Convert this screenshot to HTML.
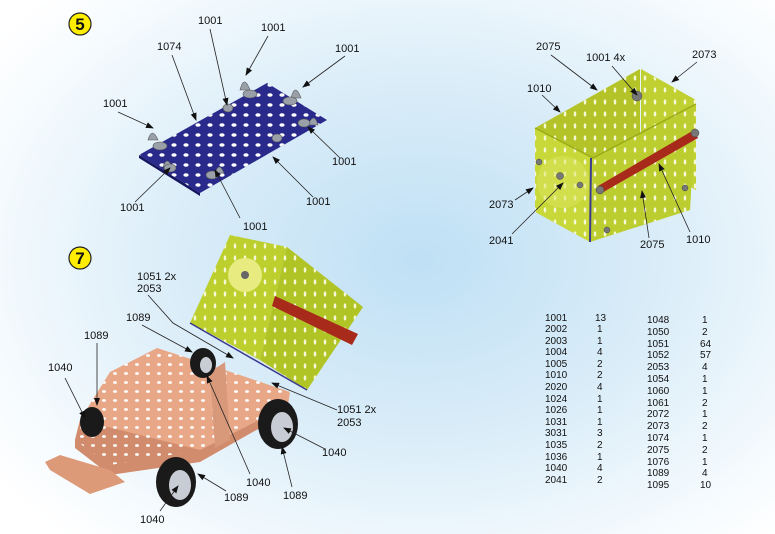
<!DOCTYPE html>
<html><head><meta charset="utf-8"><style>
html,body{margin:0;padding:0;}
body{width:775px;height:534px;overflow:hidden;background:radial-gradient(ellipse 520px 380px at 420px 260px,#bfe0f5 0%,#d9ecf8 45%,#f6fbfe 85%,#ffffff 100%);font-family:"Liberation Sans",sans-serif;}
svg{position:absolute;left:0;top:0;}
text{font-family:"Liberation Sans",sans-serif;font-size:11px;fill:#111;}
.t text{font-size:10px;}
</style></head><body>
<svg width="775" height="534" viewBox="0 0 775 534">
<defs>
<marker id="a" markerWidth="8" markerHeight="8" refX="7" refY="4" orient="auto" markerUnits="userSpaceOnUse"><path d="M0,1 L8,4 L0,7 z" fill="#111"/></marker>
<pattern id="hw" width="12" height="10" patternUnits="userSpaceOnUse"><ellipse cx="6" cy="5" rx="2.6" ry="1.8" fill="#fff"/></pattern>
<pattern id="hy" width="10" height="12" patternUnits="userSpaceOnUse"><ellipse cx="5" cy="6" rx="1.3" ry="2.6" fill="#f4f8d0"/></pattern>
<pattern id="hs" width="11" height="9" patternUnits="userSpaceOnUse"><ellipse cx="5" cy="4.5" rx="2" ry="1.4" fill="#fff"/></pattern>
</defs>

<circle cx="80" cy="24" r="11" fill="#ffee00" stroke="#222" stroke-width="1.2"/>
<text x="80" y="30" text-anchor="middle" style="font-size:17px;font-weight:bold">5</text>
<polygon points="139,155 267,83 327,120 200,193" fill="#2a2a8c"/>
<polygon points="139,155 267,83 327,120 200,193" fill="url(#hw)"/>
<polygon points="139,155 200,193 200,196 139,158" fill="#151560"/>
<g fill="#9aa0a8" stroke="#555" stroke-width=".6">
<path d="M148,140 q4,-14 10,0 z"/><path d="M240,90 q4,-16 10,0 z"/><path d="M291,98 q4,-16 10,0 z"/>
<path d="M308,125 q6,-14 10,0 z"/><path d="M163,167 q4,-12 9,0 z"/><path d="M215,173 q4,-12 9,0 z"/>
<ellipse cx="160" cy="146" rx="7" ry="4"/><ellipse cx="250" cy="94" rx="7" ry="4"/><ellipse cx="290" cy="101" rx="7" ry="4"/>
<ellipse cx="304" cy="123" rx="6" ry="4"/><ellipse cx="228" cy="108" rx="5" ry="4"/><ellipse cx="277" cy="138" rx="5" ry="4"/>
<ellipse cx="170" cy="168" rx="6" ry="4"/><ellipse cx="212" cy="175" rx="6" ry="4"/>
</g>
<g stroke="#222" stroke-width=".8" fill="none" marker-end="url(#a)">
<line x1="210" y1="29" x2="227" y2="105"/><line x1="268" y1="36" x2="246" y2="75"/>
<line x1="345" y1="56" x2="303" y2="87"/><line x1="172" y1="55" x2="196" y2="120"/>
<line x1="118" y1="112" x2="153" y2="128"/><line x1="340" y1="158" x2="308" y2="127"/>
<line x1="313" y1="197" x2="273" y2="157"/><line x1="240" y1="218" x2="215" y2="170"/>
<line x1="135" y1="202" x2="170" y2="168"/>
</g>
<text x="198" y="24">1001</text><text x="261" y="31">1001</text><text x="335" y="52">1001</text>
<text x="157" y="50">1074</text><text x="103" y="107">1001</text><text x="332" y="165">1001</text>
<text x="306" y="205">1001</text><text x="243" y="230">1001</text><text x="120" y="211">1001</text>

<polygon points="535,128 640,69 640,150 535,210" fill="#b4c428"/>
<polygon points="641,69 696,100 696,190 641,160" fill="#c0d030"/>
<polygon points="535,128 593,158 590,242 535,212" fill="#c8d838"/>
<polygon points="593,158 696,104 690,210 590,242" fill="#bccd30"/>
<polygon points="535,128 640,69 696,100 696,190 690,210 590,242 535,212" fill="url(#hy)"/>
<line x1="535" y1="128" x2="593" y2="158" stroke="#9aab18" stroke-width="1.5"/>
<line x1="593" y1="158" x2="696" y2="104" stroke="#9aab18" stroke-width="1.5"/>
<polygon points="598,186 694,130 698,138 600,194" fill="#a82a1a"/>
<circle cx="563" cy="182" r="26" fill="#dce460" opacity=".5"/>
<line x1="591" y1="158" x2="590" y2="242" stroke="#3a3a90" stroke-width="2"/>
<g fill="#777" stroke="#444" stroke-width=".5"><circle cx="600" cy="190" r="4"/><circle cx="695" cy="133" r="4"/><circle cx="560" cy="176" r="3.5"/><circle cx="580" cy="185" r="3"/><circle cx="539" cy="162" r="3"/><circle cx="685" cy="188" r="3"/><circle cx="607" cy="230" r="3"/><circle cx="637" cy="96" r="5"/></g>
<g stroke="#222" stroke-width=".8" fill="none" marker-end="url(#a)">
<line x1="551" y1="55" x2="597" y2="90"/><line x1="612" y1="66" x2="637" y2="95"/>
<line x1="697" y1="62" x2="672" y2="82"/><line x1="542" y1="95" x2="560" y2="112"/>
<line x1="515" y1="200" x2="533" y2="188"/><line x1="512" y1="234" x2="563" y2="183"/>
<line x1="649" y1="238" x2="642" y2="191"/><line x1="690" y1="232" x2="659" y2="164"/>
</g>
<text x="536" y="50">2075</text><text x="586" y="61">1001 4x</text><text x="692" y="58">2073</text>
<text x="527" y="92">1010</text><text x="489" y="208">2073</text><text x="489" y="244">2041</text>
<text x="640" y="248">2075</text><text x="686" y="243">1010</text>

<circle cx="80" cy="258" r="11" fill="#ffee00" stroke="#222" stroke-width="1.2"/>
<text x="80" y="264" text-anchor="middle" style="font-size:17px;font-weight:bold">7</text>
<polygon points="230,235 287,247 260,360 190,323" fill="#bccf2c"/>
<polygon points="287,247 363,307 307,390 260,360" fill="#b0c426"/>
<polygon points="230,235 287,247 363,307 307,390 190,323" fill="url(#hy)"/>
<circle cx="245" cy="275" r="17" fill="#e8ec80"/><circle cx="245" cy="275" r="4" fill="#666"/>
<polygon points="275,296 358,334 352,345 272,306" fill="#a82a1a"/>
<line x1="190" y1="323" x2="307" y2="390" stroke="#3a3a90" stroke-width="1.5"/>
<polygon points="110,372 157,348 200,362 240,375 290,392 288,405 200,450 110,465 75,440 80,420" fill="#e8a888"/>
<polygon points="80,420 200,450 288,405 288,412 200,462 110,475 75,448 75,440" fill="#d08c6c"/>
<polygon points="110,372 157,348 200,362 240,375 290,392 288,405 200,450 110,465 75,440 80,420" fill="url(#hs)"/>
<polygon points="45,462 60,455 110,470 125,482 90,494 50,470" fill="#dd9a78"/>
<polygon points="210,372 225,362 230,440 215,448" fill="#d8987a"/>
<g fill="#1a1a1a"><ellipse cx="203" cy="363" rx="13" ry="15"/><ellipse cx="92" cy="422" rx="12" ry="15"/><ellipse cx="278" cy="424" rx="20" ry="25"/><ellipse cx="176" cy="482" rx="20" ry="25"/></g>
<g fill="#c8ccd4"><ellipse cx="206" cy="365" rx="6" ry="8"/><ellipse cx="282" cy="427" rx="11" ry="15"/><ellipse cx="180" cy="485" rx="11" ry="15"/></g>
<g stroke="#222" stroke-width=".8" fill="none" marker-end="url(#a)">
<polyline points="148,295 173,323 233,358"/><line x1="142" y1="325" x2="192" y2="352"/>
<line x1="97" y1="343" x2="97" y2="405"/><line x1="65" y1="378" x2="85" y2="418"/>
<line x1="337" y1="410" x2="272" y2="383"/><line x1="325" y1="449" x2="284" y2="428"/>
<line x1="292" y1="487" x2="282" y2="447"/><line x1="250" y1="474" x2="207" y2="376"/>
<line x1="226" y1="491" x2="198" y2="474"/><line x1="160" y1="511" x2="178" y2="486"/>
</g>
<text x="137" y="280">1051 2x</text><text x="137" y="292">2053</text>
<text x="126" y="321">1089</text><text x="84" y="339">1089</text><text x="48" y="371">1040</text>
<text x="337" y="413">1051 2x</text><text x="337" y="426">2053</text>
<text x="322" y="456">1040</text><text x="283" y="499">1089</text><text x="246" y="486">1040</text>
<text x="224" y="501">1089</text><text x="140" y="523">1040</text>

<g class="t">
<text x="545" y="321">1001</text><text x="595" y="321">13</text>
<text x="545" y="332">2002</text><text x="597" y="332">1</text>
<text x="545" y="344">2003</text><text x="597" y="344">1</text>
<text x="545" y="355">1004</text><text x="597" y="355">4</text>
<text x="545" y="367">1005</text><text x="597" y="367">2</text>
<text x="545" y="378">1010</text><text x="597" y="378">2</text>
<text x="545" y="390">2020</text><text x="597" y="390">4</text>
<text x="545" y="402">1024</text><text x="597" y="402">1</text>
<text x="545" y="413">1026</text><text x="597" y="413">1</text>
<text x="545" y="425">1031</text><text x="597" y="425">1</text>
<text x="545" y="436">3031</text><text x="597" y="436">3</text>
<text x="545" y="448">1035</text><text x="597" y="448">2</text>
<text x="545" y="460">1036</text><text x="597" y="460">1</text>
<text x="545" y="471">1040</text><text x="597" y="471">4</text>
<text x="545" y="483">2041</text><text x="597" y="483">2</text>
<text x="647" y="323">1048</text><text x="702" y="323">1</text>
<text x="647" y="335">1050</text><text x="702" y="335">2</text>
<text x="647" y="347">1051</text><text x="700" y="347">64</text>
<text x="647" y="358">1052</text><text x="700" y="358">57</text>
<text x="647" y="370">2053</text><text x="702" y="370">4</text>
<text x="647" y="382">1054</text><text x="702" y="382">1</text>
<text x="647" y="394">1060</text><text x="702" y="394">1</text>
<text x="647" y="406">1061</text><text x="702" y="406">2</text>
<text x="647" y="417">2072</text><text x="702" y="417">1</text>
<text x="647" y="429">2073</text><text x="702" y="429">2</text>
<text x="647" y="441">1074</text><text x="702" y="441">1</text>
<text x="647" y="453">2075</text><text x="702" y="453">2</text>
<text x="647" y="465">1076</text><text x="702" y="465">1</text>
<text x="647" y="476">1089</text><text x="702" y="476">4</text>
<text x="647" y="488">1095</text><text x="700" y="488">10</text>
</g>
</svg>
</body></html>
